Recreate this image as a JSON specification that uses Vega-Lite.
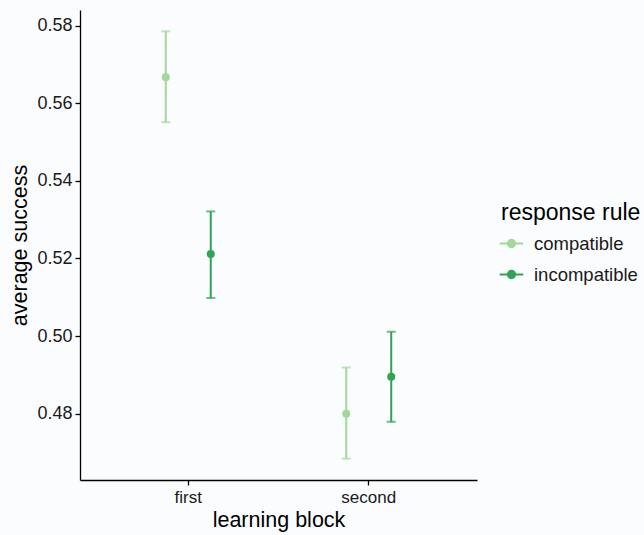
{
  "$schema": "https://vega.github.io/schema/vega-lite/v6.json",
  "autosize": "none",
  "width": 397,
  "height": 470,
  "padding": {"left": 80, "top": 10, "right": 167, "bottom": 55},
  "background": "#fbfcfd",
  "config": {
    "view": {"stroke": null},
    "font": "Liberation Sans",
    "axis": {"grid": false, "domainColor": "#000000", "domainWidth": 1.3, "tickColor": "#000000", "tickWidth": 1.3, "tickSize": 5, "labelColor": "#1a1a1a", "titleColor": "#000000", "titleFontWeight": "normal", "labelFontSize": 17, "titleFontSize": 21.5}
  },
  "data": {
    "values": [
      {"block": "first", "rule": "compatible", "mean": 0.5667, "lo": 0.5551, "hi": 0.5785},
      {"block": "first", "rule": "incompatible", "mean": 0.5211, "lo": 0.5098, "hi": 0.5321},
      {"block": "second", "rule": "compatible", "mean": 0.4800, "lo": 0.4684, "hi": 0.4919},
      {"block": "second", "rule": "incompatible", "mean": 0.4895, "lo": 0.4779, "hi": 0.5011}
    ]
  },
  "encoding": {
    "x": {"field": "block", "type": "nominal", "scale": {"paddingInner": 0.5014, "paddingOuter": 0.3507}, "axis": {"title": "learning block", "labelAngle": 0, "labelPadding": 4, "titlePadding": 4}},
    "xOffset": {"field": "rule", "type": "nominal", "scale": {"paddingInner": 0, "paddingOuter": 0}},
    "color": {"field": "rule", "type": "nominal", "scale": {"domain": ["compatible", "incompatible"], "range": ["#a1d99b", "#31a354"]},
      "legend": {"title": "response rule", "orient": "none", "legendX": 421, "legendY": 192, "titleFontSize": 23, "titleFontWeight": "normal", "titleColor": "#000000", "labelFontSize": 18.5, "labelColor": "#1a1a1a", "symbolType": "M-1.3,0H1.3M0.4,0A0.4,0.4,0,1,1,-0.4,0A0.4,0.4,0,1,1,0.4,0", "symbolSize": 330, "rowPadding": 11, "titlePadding": 8, "labelOffset": 12,
        "symbolStrokeWidth": 2, "symbolOpacity": 1}
    }
  },
  "layer": [
    {
      "mark": {"type": "rule", "strokeWidth": 2},
      "encoding": {
        "y": {"field": "lo", "type": "quantitative", "scale": {"domain": [0.4629, 0.584], "nice": false, "zero": false}, "axis": {"title": "average success", "values": [0.48, 0.5, 0.52, 0.54, 0.56, 0.58], "format": ".2f", "labelPadding": 3, "labelFontSize": 18, "titlePadding": 5}},
        "y2": {"field": "hi"}
      }
    },
    {
      "mark": {"type": "tick", "size": 9, "thickness": 2},
      "encoding": {"y": {"field": "lo", "type": "quantitative"}}
    },
    {
      "mark": {"type": "tick", "size": 9, "thickness": 2},
      "encoding": {"y": {"field": "hi", "type": "quantitative"}}
    },
    {
      "mark": {"type": "point", "filled": true, "size": 64, "opacity": 1},
      "encoding": {"y": {"field": "mean", "type": "quantitative"}}
    }
  ]
}
